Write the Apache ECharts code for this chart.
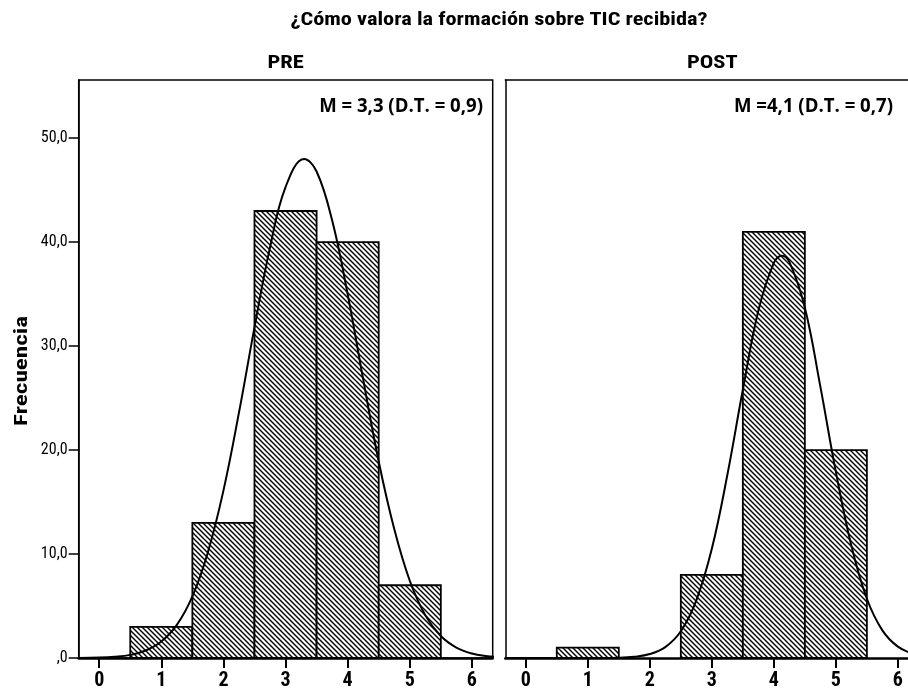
<!DOCTYPE html>
<html>
<head>
<meta charset="utf-8">
<script src="https://cdn.jsdelivr.net/npm/echarts@6/dist/echarts.min.js"></script>
<style>
html,body{margin:0;padding:0;background:#fff;}
#chart{width:908px;height:691px;}
</style>
</head>
<body>
<div id="chart"></div>
<script>
const chartTitle = '¿Cómo valora la formación sobre TIC recibida?';
const panelTitles = ['PRE', 'POST'];
const panelStats = ['M = 3,3 (D.T. = 0,9)', 'M =4,1 (D.T. = 0,7)'];
const yAxisTitle = 'Frecuencia';
const scoreValues = [1, 2, 3, 4, 5];
const preCounts = [3, 13, 43, 40, 7];
const postCounts = [1, 0, 8, 41, 20];
const xTickValues = [0, 1, 2, 3, 4, 5, 6];
const yTickValues = [0, 10, 20, 30, 40, 50];
const yTickLabels = [',0', '10,0', '20,0', '30,0', '40,0', '50,0'];
// normal curves
const preCurveX = [-0.33, 0, 0.25, 0.5, 0.75, 1.0, 1.25, 1.5, 1.75, 2.0, 2.25, 2.5, 2.75, 3.0, 3.3, 3.5, 3.75, 4.0, 4.25, 4.5, 4.75, 5.0, 5.25, 5.5, 5.75, 6.0, 6.25, 6.4];
const preCurveY = [0.01, 0.04, 0.12, 0.30, 0.72, 1.58, 3.18, 5.92, 10.18, 16.1, 23.6, 31.8, 39.5, 45.3, 48.0, 46.8, 42.1, 35.0, 26.8, 18.9, 12.4, 7.43, 4.12, 2.11, 1.0, 0.43, 0.17, 0.1];
const postCurveX = [-0.33, 0, 0.5, 1.0, 1.5, 1.75, 2.0, 2.25, 2.5, 2.75, 3.0, 3.25, 3.5, 3.75, 4.0, 4.13, 4.25, 4.5, 4.75, 5.0, 5.25, 5.5, 5.75, 6.0, 6.25, 6.5];
const postCurveY = [0, 0, 0, 0, 0.03, 0.12, 0.38, 1.05, 2.57, 5.55, 10.5, 17.6, 25.8, 33.4, 38.0, 38.7, 38.1, 33.7, 26.1, 17.9, 10.8, 5.70, 2.66, 1.09, 0.39, 0.13];

const narrow = "'Liberation Sans Narrow', 'Roboto Condensed', 'DejaVu Sans Condensed', 'Arial Narrow', sans-serif";
const statFont = "'Open Sans', Lato, sans-serif";

// hatch pattern
const T = 5;
const tile = document.createElement('canvas');
tile.width = T; tile.height = T;
const tc = tile.getContext('2d');
tc.fillStyle = '#fff'; tc.fillRect(0, 0, T, T);
tc.strokeStyle = '#000'; tc.lineWidth = 1.4;
for (const off of [-T, 0, T]) {
  tc.beginPath(); tc.moveTo(off - 1, -1); tc.lineTo(off + T + 1, T + 1); tc.stroke();
}
const hatch = { image: tile, repeat: 'repeat' };

const chart = echarts.init(document.getElementById('chart'), null, { renderer: 'canvas' });

const gridTop = 80, gridH = 578.7;
const grids = [
  { left: 78.7, top: gridTop, width: 414, height: gridH, show: true, borderColor: '#000', borderWidth: 1.5, backgroundColor: 'transparent', containLabel: false },
  { left: 505.3, top: gridTop, width: 402.7, height: gridH, show: false, containLabel: false }
];
const xMax = [6.335, 6.163];

function xAxisFor(i) {
  return {
    type: 'value', gridIndex: i, min: -0.33, max: xMax[i],
    axisLine: { show: true, onZero: false, lineStyle: { color: '#000', width: 2.5 } },
    axisTick: { show: true, inside: false, length: 10, customValues: xTickValues, lineStyle: { color: '#000', width: 2 } },
    axisLabel: { show: true, margin: 13, customValues: xTickValues, color: '#000', fontFamily: narrow, fontWeight: 'bold', fontSize: 20,
      formatter: v => String(Math.round(v)) },
    splitLine: { show: false }
  };
}
function topAxisFor(i) {
  return {
    type: 'value', gridIndex: i, position: 'top', min: -0.33, max: xMax[i],
    axisLine: { show: true, onZero: false, lineStyle: { color: '#000', width: 1.5 } },
    axisTick: { show: false }, axisLabel: { show: false }, splitLine: { show: false }
  };
}
function yAxisFor(i) {
  return {
    type: 'value', gridIndex: i, min: 0, max: 55.6,
    axisLine: { show: true, onZero: false, lineStyle: { color: '#000', width: 1.5 } },
    axisTick: { show: i === 0, inside: false, length: 10, customValues: yTickValues, lineStyle: { color: '#000', width: 1.5 } },
    axisLabel: { show: i === 0, margin: 11, customValues: yTickValues, color: '#000', fontFamily: narrow, fontSize: 16,
      formatter: v => yTickLabels[yTickValues.indexOf(Math.round(v))] || '' },
    splitLine: { show: false }
  };
}

function renderBar(params, api) {
  const x = api.value(0), y = api.value(1);
  if (!y) return null;
  const p0 = api.coord([x - 0.5, y]);
  const p1 = api.coord([x + 0.5, 0]);
  return {
    type: 'rect',
    shape: { x: p0[0], y: p0[1], width: p1[0] - p0[0], height: p1[1] - p0[1] },
    style: { fill: hatch, stroke: '#000', lineWidth: 1.8 }
  };
}

function label(text, x, y, font, align, sx, rot) {
  return { type: 'text', x: x, y: y, rotation: rot || 0, scaleX: sx || 1, z: 10,
    style: { text: text, font: font, fill: '#000', align: align, verticalAlign: 'middle' } };
}

const option = {
  animation: false,
  backgroundColor: '#fff',
  grid: grids,
  xAxis: [xAxisFor(0), xAxisFor(1), topAxisFor(1)],
  yAxis: [yAxisFor(0), yAxisFor(1)],
  series: [
    { type: 'custom', xAxisIndex: 0, yAxisIndex: 0, renderItem: renderBar, clip: true,
      data: scoreValues.map((s, k) => [s, preCounts[k]]) },
    { type: 'custom', xAxisIndex: 1, yAxisIndex: 1, renderItem: renderBar, clip: true,
      data: scoreValues.map((s, k) => [s, postCounts[k]]) },
    { type: 'line', xAxisIndex: 0, yAxisIndex: 0, smooth: 0.4, showSymbol: false, clip: true, z: 5,
      lineStyle: { color: '#000', width: 2 }, data: preCurveX.map((x, k) => [x, preCurveY[k]]) },
    { type: 'line', xAxisIndex: 1, yAxisIndex: 1, smooth: 0.4, showSymbol: false, clip: true, z: 5,
      lineStyle: { color: '#000', width: 2 }, data: postCurveX.map((x, k) => [x, postCurveY[k]]) }
  ],
  graphic: [
    label(chartTitle, 499, 20, "bold 18px " + narrow, 'center', 1.24),
    label(panelTitles[0], 285.7, 63, "bold 18px " + narrow, 'center', 1.25),
    label(panelTitles[1], 712.3, 63, "bold 18px " + narrow, 'center', 1.25),
    label(panelStats[0], 483, 106, "bold 20px " + statFont, 'right', 0.93),
    label(panelStats[1], 893, 106, "bold 20px " + statFont, 'right', 0.93),
    label(yAxisTitle, 22, 371, "bold 18px " + narrow, 'center', 1.4, Math.PI / 2)
  ]
};
chart.setOption(option);
</script>
</body>
</html>
